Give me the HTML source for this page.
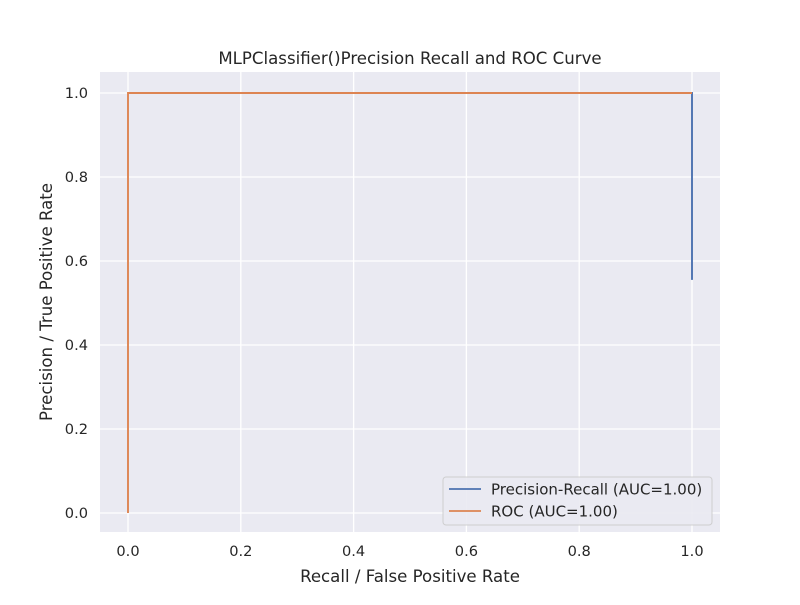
<!DOCTYPE html>
<html><head><meta charset="utf-8"><style>
body{margin:0;background:#fff;}
svg text{font-family:"DejaVu Sans","Liberation Sans",sans-serif;fill:#262626;}
</style></head><body>
<svg width="800" height="600" viewBox="0 0 800 600">
<rect x="0" y="0" width="800" height="600" fill="#fff"/>
<rect x="100" y="72" width="620" height="460" fill="#eaeaf2"/>
<g id="grid"></g>
<g id="ticks"></g>
<g id="series"></g>
<text x="410" y="64" text-anchor="middle" font-size="16.6">MLPClassifier()Precision Recall and ROC Curve</text>
<text x="410" y="582" text-anchor="middle" font-size="16.6">Recall / False Positive Rate</text>
<text transform="translate(52,302) rotate(-90)" text-anchor="middle" font-size="16.6">Precision / True Positive Rate</text>
<g>
<rect x="443" y="477" width="269" height="48" rx="3" fill="#eaeaf2" stroke="#cccccc" opacity="0.9"/>
<line x1="449" y1="489" x2="481" y2="489" stroke="#4c72b0" stroke-width="1.8"/>
<text x="491" y="494.5" font-size="15">Precision-Recall (AUC=1.00)</text>
<line x1="449" y1="511" x2="481" y2="511" stroke="#dd8452" stroke-width="1.8"/>
<text x="491" y="516.5" font-size="15">ROC (AUC=1.00)</text>
</g>
</svg>
<script>
const xTicks=[0,0.2,0.4,0.6,0.8,1.0];
const yTicks=[0,0.2,0.4,0.6,0.8,1.0];
const prX=[0,1,1];
const prY=[1,1,0.555];
const rocX=[0,0,1];
const rocY=[0,1,1];
const ns="http://www.w3.org/2000/svg";
const sx=v=>128+v*564, sy=v=>513-v*420;
const grid=document.getElementById('grid'),ticks=document.getElementById('ticks'),series=document.getElementById('series');
function mk(tag,attrs,parent){const e=document.createElementNS(ns,tag);for(const k in attrs)e.setAttribute(k,attrs[k]);parent.appendChild(e);return e;}
xTicks.forEach(t=>{
 const l=mk('line',{x1:sx(t),x2:sx(t),y1:72,y2:532,stroke:'#fff','stroke-width':1.3},grid);
 
 
 const tx=mk('text',{x:sx(t),y:556,'text-anchor':'middle','font-size':14.6},ticks);tx.textContent=t.toFixed(1);
 
 
});
yTicks.forEach(t=>{
 const l=mk('line',{x1:100,x2:720,y1:sy(t),y2:sy(t),stroke:'#fff','stroke-width':1.3},grid);
 
 
 const tx=mk('text',{x:88,y:sy(t)+5,'text-anchor':'end','font-size':14.6},ticks);tx.textContent=t.toFixed(1);
 
 
});
function line(xs,ys,c){return mk('polyline',{points:xs.map((x,i)=>sx(x)+','+sy(ys[i])).join(' '),fill:'none',stroke:c,'stroke-width':1.9},series);}
const p=line(prX,prY,'#4c72b0');


const r=line(rocX,rocY,'#dd8452');


</script>
</body></html>
